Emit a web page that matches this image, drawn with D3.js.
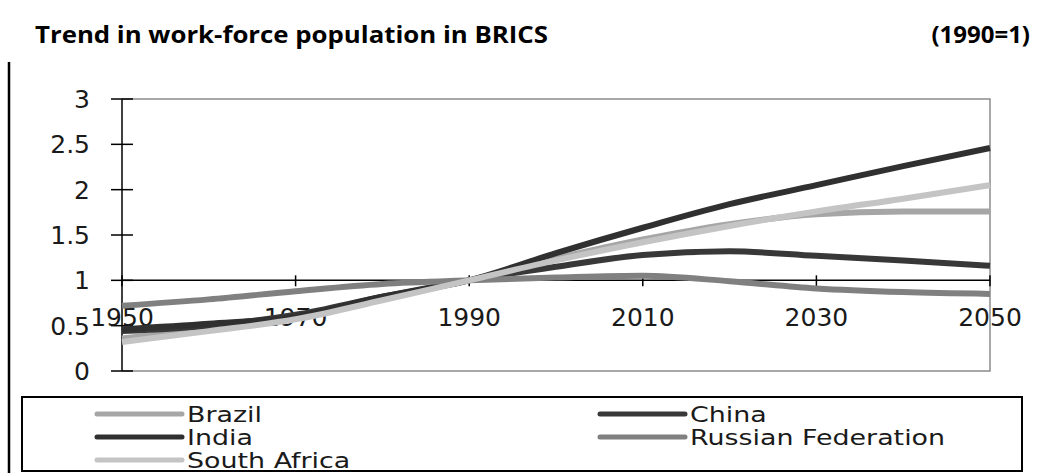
<!DOCTYPE html>
<html>
<head>
<meta charset="utf-8">
<script src="https://cdn.jsdelivr.net/npm/d3@7"></script>
<style>
  body { margin: 0; background: #fff; }
  svg { display: block; }
</style>
</head>
<body>
<svg id="chart"></svg>
<script>
const years = [1950, 1960, 1970, 1980, 1990, 2000, 2010, 2020, 2030, 2040, 2050];
const brazil = [0.36, 0.47, 0.6, 0.8, 1.0, 1.24, 1.45, 1.62, 1.73, 1.76, 1.76];
const china = [0.44, 0.5, 0.62, 0.82, 1.0, 1.15, 1.28, 1.32, 1.27, 1.22, 1.16];
const india = [0.46, 0.52, 0.6, 0.82, 1.0, 1.3, 1.58, 1.84, 2.05, 2.26, 2.46];
const russia = [0.72, 0.79, 0.88, 0.96, 1.0, 1.03, 1.05, 0.99, 0.91, 0.87, 0.85];
const southAfrica = [0.32, 0.44, 0.57, 0.78, 1.0, 1.22, 1.42, 1.6, 1.76, 1.9, 2.05];
const yTicks = [0, 0.5, 1, 1.5, 2, 2.5, 3];
const xTicks = [1950, 1970, 1990, 2010, 2030, 2050];

const series = [
  { name: "Brazil", values: brazil, color: "#a6a6a6" },
  { name: "China", values: china, color: "#383838" },
  { name: "India", values: india, color: "#303030" },
  { name: "Russian Federation", values: russia, color: "#808080" },
  { name: "South Africa", values: southAfrica, color: "#c4c4c4" },
];
// legend is laid out in two columns, excel style
const legendOrder = [
  ["Brazil", 0, 0], ["China", 1, 0],
  ["India", 0, 1], ["Russian Federation", 1, 1],
  ["South Africa", 0, 2],
];

const width = 1045;
const height = 473;
const plot = { left: 122, right: 990, top: 99, bottom: 371 };

const svg = d3.select("#chart").attr("width", width).attr("height", height);

const x = d3.scaleLinear().domain([1950, 2050]).range([plot.left, plot.right]);
const y = d3.scaleLinear().domain([0, 3]).range([plot.bottom, plot.top]);

// title
svg.append("text")
  .attr("x", 35).attr("y", 43)
  .attr("font-family", "'Liberation Sans Narrow', 'Open Sans', sans-serif")
  .attr("font-weight", "bold").attr("font-size", 24)
  .attr("textLength", 513).attr("lengthAdjust", "spacingAndGlyphs")
  .text("Trend in work-force population in BRICS");
svg.append("text")
  .attr("x", 1030).attr("y", 43).attr("text-anchor", "end")
  .attr("font-family", "'Liberation Sans Narrow', 'Open Sans', sans-serif")
  .attr("font-weight", "bold").attr("font-size", 24)
  .text("(1990=1)");

// left rule
svg.append("line")
  .attr("x1", 9).attr("x2", 9).attr("y1", 62).attr("y2", height)
  .attr("stroke", "#000").attr("stroke-width", 2.5);

// plot frame (gray)
svg.append("path")
  .attr("d", `M${plot.left},${plot.top}H${plot.right}V${plot.bottom}H${plot.left}`)
  .attr("fill", "none").attr("stroke", "#8c8c8c").attr("stroke-width", 1.5);

// y axis
svg.append("line")
  .attr("x1", x(1950)).attr("x2", x(1950)).attr("y1", y(3)).attr("y2", y(0))
  .attr("stroke", "#000").attr("stroke-width", 1.5);
svg.selectAll("line.ytick").data(yTicks).join("line")
  .attr("class", "ytick")
  .attr("x1", x(1950) - 11).attr("x2", x(1950) + 11)
  .attr("y1", (d) => y(d)).attr("y2", (d) => y(d))
  .attr("stroke", "#000").attr("stroke-width", 1.5);
svg.selectAll("text.ylab").data(yTicks).join("text")
  .attr("class", "ylab")
  .attr("x", 90).attr("y", (d) => y(d) + 9)
  .attr("text-anchor", "end")
  .attr("font-family", "'DejaVu Sans', sans-serif").attr("font-size", 25)
  .attr("fill", "#1a1a1a")
  .text((d) => d);

// x axis crosses at 1
svg.append("line")
  .attr("x1", x(1950)).attr("x2", x(2050)).attr("y1", y(1)).attr("y2", y(1))
  .attr("stroke", "#000").attr("stroke-width", 1.5);
svg.selectAll("line.xtick").data(xTicks).join("line")
  .attr("class", "xtick")
  .attr("x1", (d) => x(d)).attr("x2", (d) => x(d))
  .attr("y1", y(1) - 5).attr("y2", y(1) + 6)
  .attr("stroke", "#000").attr("stroke-width", 1.5);
svg.selectAll("text.xlab").data(xTicks).join("text")
  .attr("class", "xlab")
  .attr("x", (d) => x(d)).attr("y", y(1) + 46)
  .attr("text-anchor", "middle")
  .attr("font-family", "'DejaVu Sans', sans-serif").attr("font-size", 25)
  .attr("fill", "#1a1a1a")
  .text((d) => d);

// series lines
const line = d3.line()
  .x((d, i) => x(years[i]))
  .y((d) => y(d))
  .curve(d3.curveMonotoneX);

svg.selectAll("path.series").data(series).join("path")
  .attr("class", "series")
  .attr("d", (d) => line(d.values))
  .attr("fill", "none")
  .attr("stroke", (d) => d.color)
  .attr("stroke-width", 6);

// legend
svg.append("rect")
  .attr("x", 22).attr("y", 397).attr("width", 1000).attr("height", 74)
  .attr("fill", "none").attr("stroke", "#000").attr("stroke-width", 2);

const colX = [97, 600];
const rowY = [414, 437, 460];
const byName = new Map(series.map((s) => [s.name, s]));

const items = svg.selectAll("g.legend").data(legendOrder).join("g")
  .attr("class", "legend")
  .attr("transform", (d) => `translate(${colX[d[1]]},${rowY[d[2]]})`);
items.append("line")
  .attr("x1", 0).attr("x2", 85).attr("y1", 0).attr("y2", 0)
  .attr("stroke", (d) => byName.get(d[0]).color)
  .attr("stroke-width", 5).attr("stroke-linecap", "round");
items.append("text")
  .attr("transform", "translate(90,8) scale(1.28,1)")
  .attr("font-family", "'DejaVu Sans', sans-serif").attr("font-size", 21)
  .attr("fill", "#1a1a1a")
  .text((d) => d[0]);
</script>
</body>
</html>
